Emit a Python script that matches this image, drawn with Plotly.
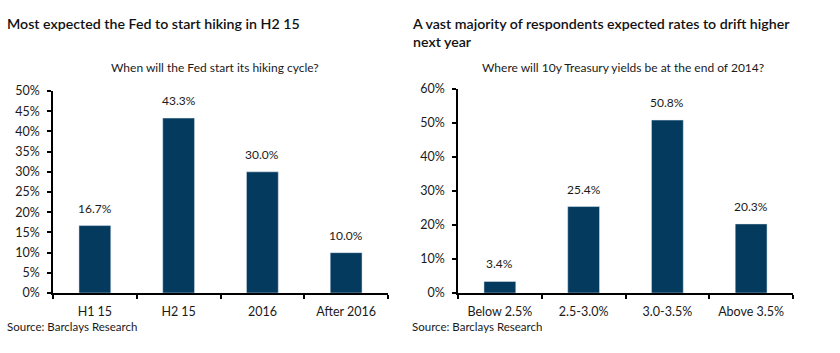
import plotly.graph_objects as go

# Data
left_categories = ["H1 15", "H2 15", "2016", "After 2016"]
left_values = [16.7, 43.3, 30.0, 10.0]
right_categories = ["Below 2.5%", "2.5-3.0%", "3.0-3.5%", "Above 3.5%"]
right_values = [3.4, 25.4, 50.8, 20.3]

left_title = "Most expected the Fed to start hiking in H2 15"
right_title = "A vast majority of respondents expected rates to drift higher<br>next year"
left_subtitle = "When will the Fed start its hiking cycle?"
right_subtitle = "Where will 10y Treasury yields be at the end of 2014?"
source = "Source: Barclays Research"

BAR = "#033a5e"
FONT = "Lato"
TXT = "#1a1a1a"
W, H = 840, 353

def px_x(x):
    return x / W

def px_y(y):
    return 1 - y / H

fig = go.Figure()
fig.add_trace(go.Bar(x=left_categories, y=left_values, marker_color=BAR,
                     xaxis="x", yaxis="y", width=0.38, showlegend=False))
fig.add_trace(go.Bar(x=right_categories, y=right_values, marker_color=BAR,
                     xaxis="x2", yaxis="y2", width=0.38, showlegend=False))

ann = []
# category axes: annotation x given as the category index
for i, v in enumerate(left_values):
    ann.append(dict(x=i, y=v, xref="x", yref="y", text=f"{v:.1f}%", showarrow=False,
                    yanchor="bottom", yshift=8, font=dict(size=12, color=TXT, family=FONT)))
for i, v in enumerate(right_values):
    ann.append(dict(x=i, y=v, xref="x2", yref="y2", text=f"{v:.1f}%", showarrow=False,
                    yanchor="bottom", yshift=8, font=dict(size=12, color=TXT, family=FONT)))

ann += [
    dict(x=px_x(5), y=px_y(5), xref="paper", yref="paper", text=left_title, showarrow=False,
         xanchor="left", yanchor="top", align="left",
         font=dict(size=14.2, color="#111", family=FONT, weight=600)),
    dict(x=px_x(410), y=px_y(5), xref="paper", yref="paper", text=right_title, showarrow=False,
         xanchor="left", yanchor="top", align="left",
         font=dict(size=14.2, color="#111", family=FONT, weight=600)),
    dict(x=px_x(215), y=px_y(62), xref="paper", yref="paper", text=left_subtitle, showarrow=False,
         xanchor="center", yanchor="middle", font=dict(size=12, color=TXT, family=FONT)),
    dict(x=px_x(623), y=px_y(62), xref="paper", yref="paper", text=right_subtitle, showarrow=False,
         xanchor="center", yanchor="middle", font=dict(size=12, color=TXT, family=FONT)),
    dict(x=px_x(5), y=px_y(333), xref="paper", yref="paper", text=source, showarrow=False,
         xanchor="left", yanchor="middle", font=dict(size=11.5, color=TXT, family=FONT)),
    dict(x=px_x(410), y=px_y(333), xref="paper", yref="paper", text=source, showarrow=False,
         xanchor="left", yanchor="middle", font=dict(size=11.5, color=TXT, family=FONT)),
]

axis_common = dict(showline=True, linecolor="#000", linewidth=1.5, ticks="outside",
                   tickcolor="#000", tickwidth=1.5, ticklen=4, showgrid=False, zeroline=False,
                   tickfont=dict(size=12.5, color=TXT, family=FONT))

fig.update_layout(
    width=W, height=H, margin=dict(l=0, r=0, t=0, b=0),
    paper_bgcolor="white", plot_bgcolor="white",
    xaxis=dict(domain=[px_x(53), px_x(388)], anchor="y", type="category",
               range=[-0.5, len(left_categories) - 0.5], autorange=False,
               tickson="boundaries", ticklabelstandoff=6, **axis_common),
    yaxis=dict(domain=[px_y(297.7), px_y(86.7)], anchor="x", range=[0, 50], dtick=5,
               ticksuffix="%", ticklabelstandoff=5, **axis_common),
    xaxis2=dict(domain=[px_x(458), px_x(793)], anchor="y2", type="category",
                range=[-0.5, len(right_categories) - 0.5], autorange=False,
                tickson="boundaries", ticklabelstandoff=6, **axis_common),
    yaxis2=dict(domain=[px_y(297.7), px_y(84.3)], anchor="x2", range=[0, 60], dtick=10,
                ticksuffix="%", ticklabelstandoff=5, **axis_common),
    annotations=ann,
    bargap=0.62,
)

fig.write_html("out.html")
